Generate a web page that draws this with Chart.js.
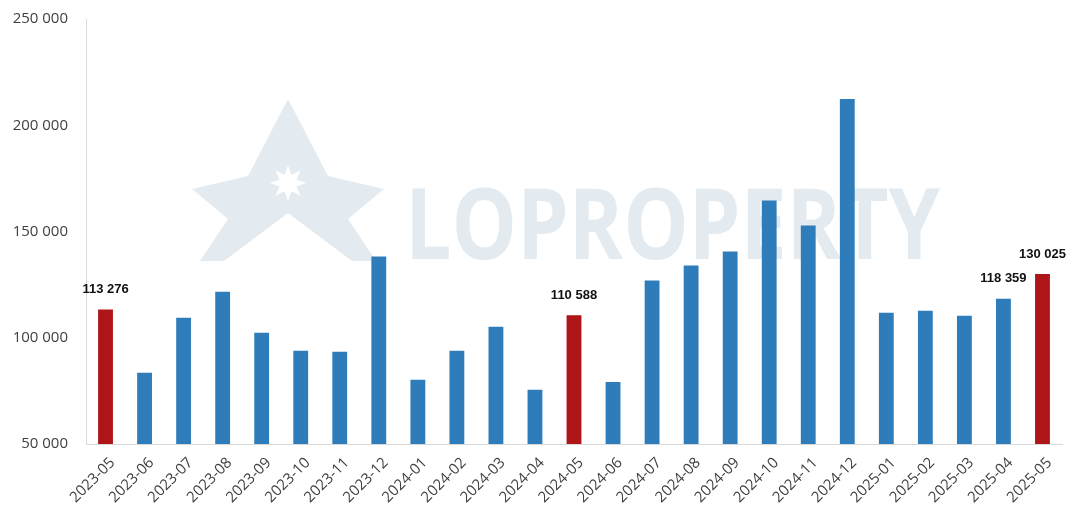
<!DOCTYPE html>
<html>
<head>
<meta charset="utf-8">
<script src="https://cdn.jsdelivr.net/npm/chart.js@4"></script>
<style>
  html, body { margin: 0; padding: 0; background: #fff; }
  #wrap { width: 1079px; height: 523px; position: relative; }
</style>
</head>
<body>
<div id="wrap"><canvas id="chart"></canvas></div>
<script>
// --- data ---
const months = [
    '2023-05', '2023-06', '2023-07', '2023-08', '2023-09', '2023-10', '2023-11', '2023-12',
    '2024-01', '2024-02', '2024-03', '2024-04', '2024-05', '2024-06', '2024-07', '2024-08',
    '2024-09', '2024-10', '2024-11', '2024-12', '2025-01', '2025-02', '2025-03', '2025-04', '2025-05'
];
const values = [
    113276, 83500, 109400, 121700, 102400, 93900, 93400, 138200,
    80200, 93900, 105200, 75500, 110588, 79200, 126900, 134000,
    140600, 164600, 152800, 212300, 111800, 112700, 110400, 118359, 130025
];
const highlighted = ['2023-05', '2024-05', '2025-05'];   // red bars
const labelled = ['2023-05', '2024-05', '2025-04', '2025-05'];
const yTicks = [50000, 100000, 150000, 200000, 250000];

const fmt = v => String(Math.round(v)).replace(/\B(?=(\d{3})+(?!\d))/g, ' ');

// watermark drawn behind the bars
const watermark = {
    id: 'watermark',
    beforeDatasetsDraw(chart) {
        const { ctx, chartArea: a } = chart;
        ctx.save();
        ctx.fillStyle = '#e3ebf0';
        // logo "A"
        const cx = a.left + 202, top = a.top + 80, base = a.top + 242;
        ctx.beginPath();
        ctx.moveTo(cx, top);
        ctx.lineTo(cx + 40, base - 85);
        ctx.lineTo(cx + 96, base - 72);
        ctx.lineTo(cx + 60, base - 42);
        ctx.lineTo(cx + 88, base);
        ctx.lineTo(cx + 64, base);
        ctx.lineTo(cx, base - 48);
        ctx.lineTo(cx - 64, base);
        ctx.lineTo(cx - 88, base);
        ctx.lineTo(cx - 60, base - 42);
        ctx.lineTo(cx - 96, base - 72);
        ctx.lineTo(cx - 40, base - 85);
        ctx.closePath();
        ctx.fill();
        // star cut-out
        ctx.fillStyle = '#ffffff';
        ctx.beginPath();
        for (let k = 0; k < 16; k++) {
            const r = k % 2 ? 9 : 18;
            const ang = -Math.PI / 2 + k * Math.PI / 8;
            const px = cx + r * Math.cos(ang), py = base - 78 + r * Math.sin(ang);
            k ? ctx.lineTo(px, py) : ctx.moveTo(px, py);
        }
        ctx.closePath();
        ctx.fill();
        // text
        ctx.fillStyle = '#e3ebf0';
        ctx.font = 'bold 98px "Open Sans"';
        ctx.textBaseline = 'alphabetic';
        const txt = 'LOPROPERTY';
        const w = ctx.measureText(txt).width;
        const target = 535;
        ctx.translate(a.left + 319, base - 2);
        ctx.scale(target / w, 1);
        ctx.fillText(txt, 0, 0);
        ctx.restore();
    }
};

const valueLabels = {
    id: 'valueLabels',
    afterDatasetsDraw(chart) {
        const { ctx } = chart;
        const meta = chart.getDatasetMeta(0);
        ctx.save();
        ctx.font = 'bold 13px "Liberation Sans", Arial';
        ctx.fillStyle = '#111';
        ctx.textAlign = 'center';
        ctx.textBaseline = 'middle';
        months.forEach((m, i) => {
            if (!labelled.includes(m)) return;
            const bar = meta.data[i];
            ctx.fillText(fmt(values[i]), bar.x, bar.y - 20);
        });
        ctx.restore();
    }
};

new Chart(document.getElementById('chart'), {
    type: 'bar',
    data: {
        labels: months,
        datasets: [{
            data: values,
            backgroundColor: months.map(m => highlighted.includes(m) ? '#ad1519' : '#2e7dba'),
            barPercentage: 0.38,
            categoryPercentage: 1
        }]
    },
    options: {
        responsive: true,
        maintainAspectRatio: false,
        animation: false,
        layout: { padding: { top: 7, right: 17, left: 0, bottom: 0 } },
        plugins: {
            legend: { display: false },
            tooltip: { enabled: false }
        },
        scales: {
            x: {
                grid: { display: false },
                border: { color: '#d9d9d9' },
                ticks: {
                    color: '#404040',
                    font: { family: 'Open Sans', size: 15 },
                    maxRotation: 45,
                    minRotation: 45,
                    labelOffset: 7,
                    padding: 2
                },
                afterFit: s => { s.height = 79; }
            },
            y: {
                min: 50000,
                max: 250000,
                grid: { display: false },
                border: { color: '#d9d9d9' },
                afterBuildTicks: s => { s.ticks = yTicks.map(v => ({ value: v })); },
                ticks: {
                    color: '#404040',
                    font: { family: 'Open Sans', size: 15 },
                    padding: 10,
                    callback: v => fmt(v)
                },
                afterFit: s => { s.width = 86; }
            }
        }
    },
    plugins: [watermark, valueLabels]
});
</script>
</body>
</html>
